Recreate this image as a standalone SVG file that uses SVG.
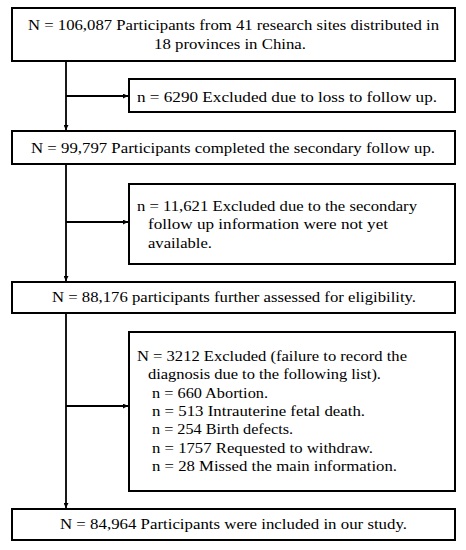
<svg xmlns="http://www.w3.org/2000/svg" width="466" height="550" viewBox="0 0 466 550">
<style>
.box{fill:#fff;stroke:#000;stroke-width:2}
text{font-family:"Liberation Serif","Times New Roman",serif;font-size:15.5px;fill:#000}
.ln{stroke:#000;stroke-width:1.8;fill:none}
</style>
<defs>
<marker id="ah" markerWidth="5" markerHeight="5" refX="5" refY="2.5" orient="auto" markerUnits="userSpaceOnUse">
<path d="M0,0 L5,2.5 L0,5 Z" fill="#000"/>
</marker>
</defs>
<rect width="466" height="550" fill="#fff"/>
<g id="connectors">
<line class="ln" x1="66" y1="61" x2="66" y2="130" marker-end="url(#ah)"/>
<line class="ln" x1="66" y1="96" x2="128" y2="96" marker-end="url(#ah)"/>
<line class="ln" x1="66" y1="164" x2="66" y2="281" marker-end="url(#ah)"/>
<line class="ln" x1="66" y1="222" x2="128" y2="222" marker-end="url(#ah)"/>
<line class="ln" x1="66" y1="313" x2="66" y2="508" marker-end="url(#ah)"/>
<line class="ln" x1="66" y1="406" x2="128" y2="406" marker-end="url(#ah)"/>
</g>
<g id="n1">
<rect class="box" x="12" y="8" width="443" height="53"/>
<text x="28" y="30" textLength="411" lengthAdjust="spacingAndGlyphs">N = 106,087 Participants from 41 research sites distributed in</text>
<text x="154" y="49" textLength="152" lengthAdjust="spacingAndGlyphs">18 provinces in China.</text>
</g>
<g id="n2">
<rect class="box" x="129" y="79" width="326" height="33"/>
<text x="137" y="102" textLength="300" lengthAdjust="spacingAndGlyphs">n = 6290 Excluded due to loss to follow up.</text>
</g>
<g id="n3">
<rect class="box" x="12" y="131" width="443" height="33"/>
<text x="31" y="153" textLength="404" lengthAdjust="spacingAndGlyphs">N = 99,797 Participants completed the secondary follow up.</text>
</g>
<g id="n4">
<rect class="box" x="129" y="184" width="326" height="80"/>
<text x="137" y="211" textLength="280" lengthAdjust="spacingAndGlyphs">n = 11,621 Excluded due to the secondary</text>
<text x="148" y="229" textLength="240" lengthAdjust="spacingAndGlyphs">follow up information were not yet</text>
<text x="148" y="248" textLength="64" lengthAdjust="spacingAndGlyphs">available.</text>
</g>
<g id="n5">
<rect class="box" x="12" y="282" width="443" height="31"/>
<text x="52" y="302" textLength="364" lengthAdjust="spacingAndGlyphs">N = 88,176 participants further assessed for eligibility.</text>
</g>
<g id="n6">
<rect class="box" x="129" y="332" width="326" height="159"/>
<text x="137" y="361" textLength="270" lengthAdjust="spacingAndGlyphs">N = 3212 Excluded (failure to record the</text>
<text x="148" y="379" textLength="233" lengthAdjust="spacingAndGlyphs">diagnosis due to the following list).</text>
<text x="152" y="398" textLength="116" lengthAdjust="spacingAndGlyphs">n = 660 Abortion.</text>
<text x="152" y="416" textLength="213" lengthAdjust="spacingAndGlyphs">n = 513 Intrauterine fetal death.</text>
<text x="152" y="434" textLength="141" lengthAdjust="spacingAndGlyphs">n = 254 Birth defects.</text>
<text x="152" y="453" textLength="221" lengthAdjust="spacingAndGlyphs">n = 1757 Requested to withdraw.</text>
<text x="152" y="471" textLength="245" lengthAdjust="spacingAndGlyphs">n = 28 Missed the main information.</text>
</g>
<g id="n7">
<rect class="box" x="12" y="509" width="443" height="31"/>
<text x="60" y="529" textLength="347" lengthAdjust="spacingAndGlyphs">N = 84,964 Participants were included in our study.</text>
</g>
</svg>
